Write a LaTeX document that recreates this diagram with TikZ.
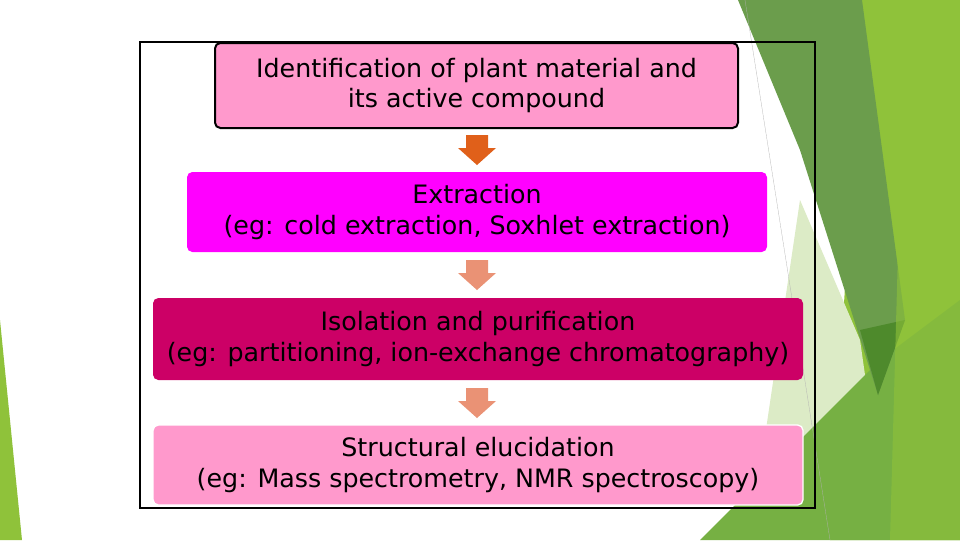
\documentclass[tikz,border=0pt]{standalone}
\usepackage{fontspec}
\setmainfont{DejaVu Sans}
\definecolor{gA}{HTML}{6B9D4C}
\definecolor{gB}{HTML}{8FC23A}
\definecolor{gC}{HTML}{76B043}
\definecolor{gP}{HTML}{DCEBC6}
\definecolor{gD}{HTML}{4E8A2C}
\definecolor{pk}{HTML}{FF99CC}
\definecolor{mg}{HTML}{FF00FF}
\definecolor{cr}{HTML}{CC0066}
\definecolor{or1}{HTML}{E0601A}
\definecolor{or2}{HTML}{EA9275}
\tikzset{
 stepbox/.style={rounded corners=4pt,align=center,font=\fontsize{19}{23}\selectfont,inner sep=0pt,text=black},
 darrow/.pic={\fill (-11,-15)--(11,-15)--(11,-2)--(19,-2)--(0,15)--(-19,-2)--(-11,-2)--cycle;}
}
\begin{document}
\begin{tikzpicture}[x=0.75pt,y=-0.75pt]
\useasboundingbox (0,0) rectangle (960,540);
\fill[white] (0,0) rectangle (960,540);
% decorations
\fill[gB] (862,0)--(960,0)--(960,540)--(830,540)--cycle;
\fill[gP] (800,200)--(860,340)--(870,410)--(800,450)--(760,470)--cycle;
\fill[gC] (700,540)--(880,360)--(960,300)--(960,540)--cycle;
\fill[gA] (738,0)--(862,0)--(905,320)--(878,395)--(800,150)--cycle;
\fill[gD] (860,330)--(905,320)--(878,395)--cycle;
\fill[gB,opacity=.6] (905,0)--(960,0)--(960,540)--(890,540)--cycle;
\fill[gB] (0,320)--(22,540)--(0,540)--cycle;
\draw[gray!60,very thin] (745,0)--(830,540);
\draw[black,line width=1.2pt] (140,42) rectangle (815,508);
\node[stepbox,fill=pk,draw=black,line width=1.5pt,minimum width=523*0.75pt,minimum height=85*0.75pt] (b1) at (476.5,85.5) {Identification of plant material and\\its active compound};
\node[stepbox,fill=mg,minimum width=580*0.75pt,minimum height=80*0.75pt] (b2) at (477,212) {Extraction\\(eg: cold extraction, Soxhlet extraction)};
\node[stepbox,fill=cr,minimum width=650*0.75pt,minimum height=82*0.75pt] (b3) at (478,339) {Isolation and purification\\(eg: partitioning, ion-exchange chromatography)};
\node[stepbox,fill=pk,draw=white,line width=1pt,minimum width=650*0.75pt,minimum height=80*0.75pt] (b4) at (478,465) {Structural elucidation\\(eg: Mass spectrometry, NMR spectroscopy)};
\pic[or1] at (477,150) {darrow};
\pic[or2] at (477,275) {darrow};
\pic[or2] at (477,403) {darrow};
\end{tikzpicture}
\end{document}
